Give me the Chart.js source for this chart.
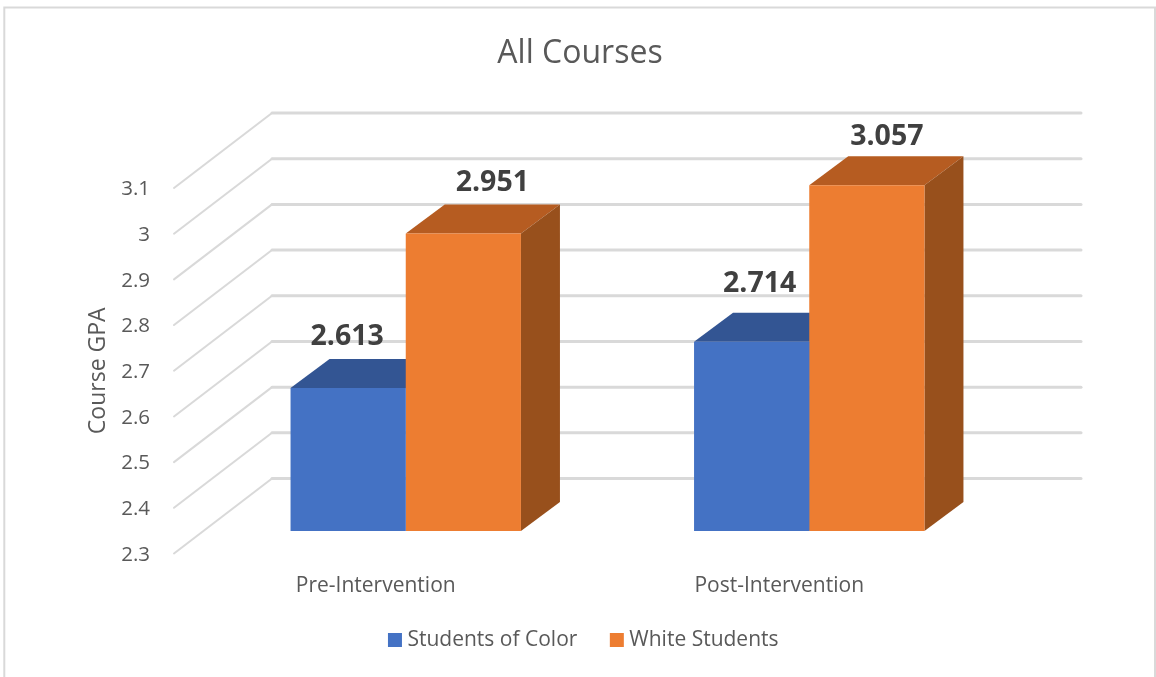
<!DOCTYPE html>
<html>
<head>
<meta charset="utf-8">
<style>html,body{margin:0;padding:0;background:#fff}canvas{display:block}</style>
<script src="https://cdn.jsdelivr.net/npm/chart.js@4/dist/chart.umd.min.js"></script>
</head>
<body>
<canvas id="c" width="1156" height="677"></canvas>
<script>
const categories = ["Pre-Intervention", "Post-Intervention"];
const studentsOfColor = [2.613, 2.714];
const whiteStudents = [2.951, 3.057];
const valueTicks = [2.3, 2.4, 2.5, 2.6, 2.7, 2.8, 2.9, 3, 3.1];

const FONT = '"Open Sans", "Noto Sans", sans-serif';
const TEXT = '#595959';
const GRID = '#d9d9d9';
const faces = [
  { top: '#335593', side: '#2f528f' },
  { top: '#b65c21', side: '#98501c' }
];
const labelOffsets = [
  [[-1, -51], [8, -58]],
  [[29, -51], [20, -48]]
];
const wall = { dx: 98, dy: -75, right: 1081 };
const front = { dx: 30, dy: -22.5 };
const depth = { dx: 39, dy: -29 };

const poly = (ctx, pts, fill) => {
  ctx.beginPath();
  pts.forEach((p, i) => i ? ctx.lineTo(p[0], p[1]) : ctx.moveTo(p[0], p[1]));
  ctx.closePath();
  ctx.fillStyle = fill;
  ctx.fill();
};

const frame3d = {
  id: 'frame3d',
  afterLayout(chart) {
    chart.titleBlock.left = 2; chart.titleBlock.right = chart.width + 2;
    chart.legend.left = 7.75; chart.legend.right = chart.width + 7.75;
    const h = chart.legend.bottom - chart.legend.top;
    chart.legend.top = 592; chart.legend.bottom = 592 + h;
    const s = chart.scales.y;
    if (!s.shiftedLabels) {
      s.shiftedLabels = true;
      const drawLabels = s.drawLabels;
      s.drawLabels = function (area) {
        chart.ctx.save();
        chart.ctx.translate(0, 1.5);
        drawLabels.call(this, area);
        chart.ctx.restore();
      };
    }
  },
  beforeDraw(chart) {
    const ctx = chart.ctx;
    ctx.save();
    ctx.fillStyle = '#fff';
    ctx.fillRect(0, 0, chart.width, chart.height);
    ctx.strokeStyle = GRID;
    ctx.lineWidth = 2;
    ctx.beginPath();
    ctx.moveTo(4.3, chart.height); ctx.lineTo(4.3, 7.5); ctx.lineTo(1155, 7.5); ctx.lineTo(1155, chart.height);
    ctx.stroke();
    ctx.restore();
  },
  beforeDatasetsDraw(chart) {
    const ctx = chart.ctx, y = chart.scales.y, left = chart.chartArea.left;
    ctx.save();
    ctx.strokeStyle = GRID;
    ctx.lineCap = 'round';
    valueTicks.forEach(v => {
      const py = y.getPixelForValue(v);
      ctx.lineWidth = 2;
      ctx.beginPath();
      ctx.moveTo(left, py);
      ctx.lineTo(left + wall.dx, py + wall.dy);
      ctx.stroke();
      ctx.lineWidth = 3;
      ctx.beginPath();
      ctx.moveTo(left + wall.dx, py + wall.dy);
      ctx.lineTo(wall.right, py + wall.dy);
      ctx.stroke();
    });
    ctx.restore();

    ctx.save();
    ctx.translate(front.dx, front.dy);
    chart.data.datasets.forEach((ds, d) => {
      chart.getDatasetMeta(d).data.forEach(bar => {
        const l = bar.x - bar.width / 2, r = bar.x + bar.width / 2, t = bar.y, b = bar.base;
        poly(ctx, [[l, t], [l + depth.dx, t + depth.dy], [r + depth.dx, t + depth.dy], [r, t]], faces[d].top);
        poly(ctx, [[r, t], [r + depth.dx, t + depth.dy], [r + depth.dx, b + depth.dy], [r, b]], faces[d].side);
      });
    });
    ctx.restore();
    // front faces are drawn by the library in the same shifted plane
    ctx.save();
    ctx.translate(front.dx, front.dy);
  },
  afterDatasetsDraw(chart) {
    const ctx = chart.ctx;
    ctx.restore();
    ctx.save();
    ctx.fillStyle = '#404040';
    ctx.font = 'bold 28.5px ' + FONT;
    ctx.textAlign = 'center';
    ctx.textBaseline = 'middle';
    chart.data.datasets.forEach((ds, d) => {
      chart.getDatasetMeta(d).data.forEach((bar, i) => {
        const o = labelOffsets[d][i];
        ctx.fillText(String(ds.data[i]), bar.x + front.dx + o[0], bar.y + front.dy + o[1]);
      });
    });
    ctx.restore();
  }
};

new Chart(document.getElementById('c'), {
  type: 'bar',
  data: {
    labels: categories,
    datasets: [
      { label: 'Students of Color', data: studentsOfColor, backgroundColor: '#4472c4', borderWidth: 0, pointStyle: 'rect' },
      { label: 'White Students', data: whiteStudents, backgroundColor: '#ed7d31', borderWidth: 0, pointStyle: 'rect' }
    ]
  },
  options: {
    responsive: false,
    animation: false,
    events: [],
    layout: { padding: { right: 175, bottom: 10 } },
    datasets: { bar: { categoryPercentage: 0.571, barPercentage: 1, base: valueTicks[0] } },
    plugins: {
      tooltip: { enabled: false },
      title: {
        display: true,
        text: 'All Courses',
        color: TEXT,
        font: { family: FONT, size: 32, weight: 'normal' },
        padding: { top: 35, bottom: 114.6 }
      },
      legend: {
        position: 'bottom',
        labels: {
          usePointStyle: true,
          boxWidth: 4,
          boxHeight: 14,
          padding: 37.5,
          color: TEXT,
          font: { family: FONT, size: 21 }
        }
      }
    },
    scales: {
      x: {
        grid: { display: false, drawTicks: false },
        border: { display: false },
        afterFit(s) { s.height = 45; },
        ticks: { color: TEXT, padding: 19.5, maxRotation: 0, font: { family: FONT, size: 21 } }
      },
      y: {
        min: 2.3,
        max: 3.1,
        title: {
          display: true,
          text: 'Course GPA',
          color: TEXT,
          font: { family: FONT, size: 23 },
          padding: { top: 84.5, bottom: 0 }
        },
        grid: { display: false, drawTicks: false },
        border: { display: false },
        afterFit(s) { s.width = 174; },
        afterBuildTicks(s) { s.ticks = valueTicks.map(v => ({ value: v })); },
        ticks: {
          color: TEXT,
          padding: 24,
          font: { family: FONT, size: 20.5 },
          callback: v => String(v)
        }
      }
    }
  },
  plugins: [frame3d]
});
</script>
</body>
</html>
